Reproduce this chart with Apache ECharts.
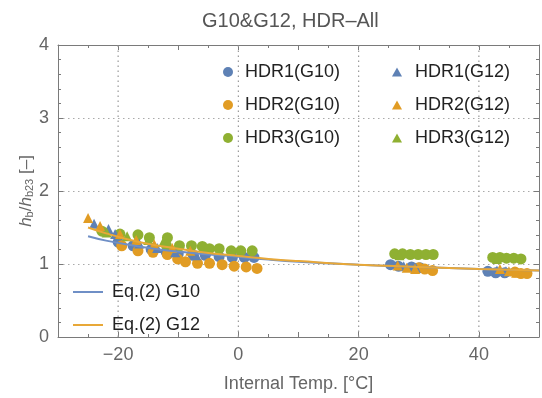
<!DOCTYPE html>
<html>
<head>
<meta charset="utf-8">
<script src="https://cdn.jsdelivr.net/npm/echarts@6/dist/echarts.min.js"></script>
<style>html,body{margin:0;padding:0;background:#fff}#c{width:542px;height:398px}</style>
</head>
<body>
<div id="c"></div>
<script>
// ---- data ----
const titleText = 'G10&G12, HDR\u2013All';
const xTicks = [-20, 0, 20, 40];
const yRange = [0, 4];

const hdr1G10 = [[-20,1.30],[-17.5,1.25],[-14.5,1.20],[-12,1.16],[-10,1.14],[-7.5,1.12],[-5.5,1.12],[-3.2,1.10],[-1,1.09],[1,1.09],[2.6,1.09],
  [25.3,0.99],[26.6,0.97],[28.8,0.96],[30.2,0.95],[41.5,0.90],[42.8,0.88],[44.3,0.88]];
const hdr2G10 = [[-19.4,1.25],[-16.7,1.18],[-14.2,1.16],[-11.8,1.13],[-10.1,1.07],[-8.8,1.03],[-6.8,1.01],[-4.8,1.01],[-2.7,0.99],[-0.7,0.97],[1.3,0.96],[3.1,0.94],
  [30.0,0.95],[31.0,0.93],[32.3,0.91],[46,0.89],[47,0.87],[48,0.87]];
const hdr3G10 = [[-22.7,1.45],[-19.7,1.41],[-16.7,1.40],[-14.8,1.36],[-11.8,1.36],[-12,1.26],[-9.8,1.25],[-7.8,1.25],[-6,1.24],[-4.8,1.21],[-3.2,1.21],[-1.2,1.18],[0.4,1.18],[2.3,1.18],
  [26.0,1.14],[27.3,1.14],[28.6,1.13],[29.9,1.13],[31.2,1.13],[32.4,1.13],[42.3,1.09],[43.5,1.09],[44.6,1.08],[45.8,1.08],[47,1.07]];
const hdr1G12 = [[-24,1.55],[-21.6,1.48],[-20.5,1.41],[-16.5,1.28],[-13.5,1.22],[-10.5,1.16],[-7,1.12],
  [27.5,0.97],[29.5,0.95],[43,0.91],[44.5,0.90]];
const hdr2G12 = [[-25,1.63],[-23,1.52],[-19.7,1.41],[-17,1.33],[-14,1.27],[-11,1.22],[-8,1.18],
  [26.5,0.98],[28,0.95],[29.4,0.93],[43.5,0.93],[45,0.90],[46.2,0.88]];
const hdr3G12 = [[-21.9,1.43],[-18.5,1.38],[-15,1.33],[-12.5,1.30],[26.8,1.12],[43,1.07]];
const eqG10 = [[-25,1.38],[-22,1.32],[-18,1.26],[-14,1.21],[-10,1.17],[-5,1.13],[0,1.10],[5,1.06],[10,1.03],[20,0.99],[30,0.96],[40,0.93],[50,0.91]];
const eqG12 = [[-25,1.50],[-22,1.42],[-18,1.33],[-14,1.26],[-10,1.21],[-5,1.15],[0,1.11],[5,1.07],[10,1.04],[20,0.99],[30,0.96],[40,0.93],[50,0.91]];

const BLUE = '#5E81B5', ORANGE = '#E19C24', GREEN = '#8FB032';
const FONT = '"Liberation Sans", Arial, sans-serif';
const GRID_LINE = {color: '#aaa', type: [1.5, 3.5], width: 1};
const VGRID_LINE = {color: '#999', type: [1.5, 3.5], width: 1.2};

const chart = echarts.init(document.getElementById('c'), null, {renderer: 'canvas'});

function scatter(name, data, color, symbol, size) {
  return {name, type: 'scatter', data, symbol, symbolSize: size,
    itemStyle: {color, opacity: 1}, xAxisIndex: 0, yAxisIndex: 0, z: 3};
}
function line(name, data, color) {
  return {name, type: 'line', data, smooth: true, showSymbol: false, symbol: 'none',
    lineStyle: {color, width: 2}, itemStyle: {color}, xAxisIndex: 0, yAxisIndex: 0, z: 4};
}
// vertical dotted grid lines at the labelled x ticks
const gridSeries = xTicks.map(v => ({
  type: 'line', silent: true, symbol: 'none', showSymbol: false, z: 1, clip: false,
  data: [[v, yRange[0]], [v, yRange[1]]], lineStyle: VGRID_LINE, itemStyle: {color: '#999'},
  tooltip: {show: false}
}));
const axisLineStyle = {color: '#7a7a7a', width: 1};
const legendText = {fontFamily: FONT, fontSize: 18, color: '#222'};

const option = {
  animation: false,
  textStyle: {fontFamily: FONT},
  title: {text: titleText, left: 197, top: 6,
    textStyle: {fontFamily: FONT, fontSize: 20, fontWeight: 'normal', color: '#555'}},
  grid: {left: 58, right: 1, top: 45, bottom: 55, containLabel: false},
  legend: [
    {data: ['HDR1(G10)', 'HDR2(G10)', 'HDR3(G10)'], orient: 'vertical', left: 218, top: 58,
      itemWidth: 10, itemHeight: 10, itemGap: 15, textStyle: Object.assign({padding: [0,0,0,7]}, legendText)},
    {data: ['HDR1(G12)', 'HDR2(G12)', 'HDR3(G12)'], orient: 'vertical', left: 387, top: 58,
      itemWidth: 10, itemHeight: 9, itemGap: 15, textStyle: Object.assign({padding: [0,0,0,8]}, legendText)},
    {data: [{name: 'Eq.(2) G10', icon: 'rect'}, {name: 'Eq.(2) G12', icon: 'rect'}], orient: 'vertical', left: 68, top: 278,
      itemWidth: 30, itemHeight: 2, itemGap: 15, textStyle: Object.assign({padding: [0,0,0,4]}, legendText)}
  ],
  xAxis: [
    {type: 'value', min: -30, max: 50, interval: 10, position: 'bottom',
      name: 'Internal Temp. [\u00B0C]', nameLocation: 'middle', nameGap: 38, nameMoveOverlap: false,
      nameTextStyle: {fontFamily: FONT, fontSize: 18, color: '#666'},
      axisLine: {show: true, lineStyle: axisLineStyle},
      axisTick: {show: true, inside: true, length: 5, lineStyle: axisLineStyle},
      minorTick: {show: true, splitNumber: 2, length: 3, lineStyle: axisLineStyle},
      axisLabel: {fontFamily: FONT, fontSize: 18, color: '#666', margin: 9,
        formatter: v => xTicks.indexOf(v) >= 0 ? (v < 0 ? '\u2212' + Math.abs(v) : String(v)) : ''},
      splitLine: {show: false}},
    {type: 'value', min: -30, max: 50, interval: 10, position: 'top',
      axisLine: {show: true, onZero: false, lineStyle: axisLineStyle},
      axisTick: {show: true, inside: true, length: 5, lineStyle: axisLineStyle},
      minorTick: {show: true, splitNumber: 2, length: 3, lineStyle: axisLineStyle},
      axisLabel: {show: false}, splitLine: {show: false}}
  ],
  yAxis: [
    {type: 'value', min: yRange[0], max: yRange[1], interval: 1, position: 'left',
      name: '{i|h}{s|b}{n|/}{i|h}{s|b23}{n| [\u2013]}', nameLocation: 'middle', nameGap: 23, nameRotate: 90,
      nameMoveOverlap: false,
      nameTextStyle: {color: '#666', rich: {
        i: {fontFamily: FONT, fontSize: 17, fontStyle: 'italic', color: '#666'},
        n: {fontFamily: FONT, fontSize: 17, color: '#666'},
        s: {fontFamily: FONT, fontSize: 11, color: '#666', verticalAlign: 'bottom', padding: [7,0,0,0]}}},
      axisLine: {show: true, onZero: false, lineStyle: axisLineStyle},
      axisTick: {show: true, inside: true, length: 5, lineStyle: axisLineStyle},
      minorTick: {show: true, splitNumber: 5, length: 3, lineStyle: axisLineStyle},
      axisLabel: {fontFamily: FONT, fontSize: 18, color: '#666', margin: 9},
      splitLine: {show: true, lineStyle: GRID_LINE}},
    {type: 'value', min: yRange[0], max: yRange[1], interval: 1, position: 'right',
      axisLine: {show: true, onZero: false, lineStyle: axisLineStyle},
      axisTick: {show: true, inside: true, length: 5, lineStyle: axisLineStyle},
      minorTick: {show: true, splitNumber: 5, length: 3, lineStyle: axisLineStyle},
      axisLabel: {show: false}, splitLine: {show: false}}
  ],
  series: gridSeries.concat([
    scatter('HDR1(G10)', hdr1G10, BLUE, 'circle', 11),
    scatter('HDR2(G10)', hdr2G10, ORANGE, 'circle', 11),
    scatter('HDR3(G10)', hdr3G10, GREEN, 'circle', 11),
    scatter('HDR1(G12)', hdr1G12, BLUE, 'triangle', 10),
    scatter('HDR2(G12)', hdr2G12, ORANGE, 'triangle', 10),
    scatter('HDR3(G12)', hdr3G12, GREEN, 'triangle', 10),
    line('Eq.(2) G10', eqG10, '#6F8FC6'),
    line('Eq.(2) G12', eqG12, '#E8A838')
  ])
};
chart.setOption(option);
</script>
</body>
</html>
